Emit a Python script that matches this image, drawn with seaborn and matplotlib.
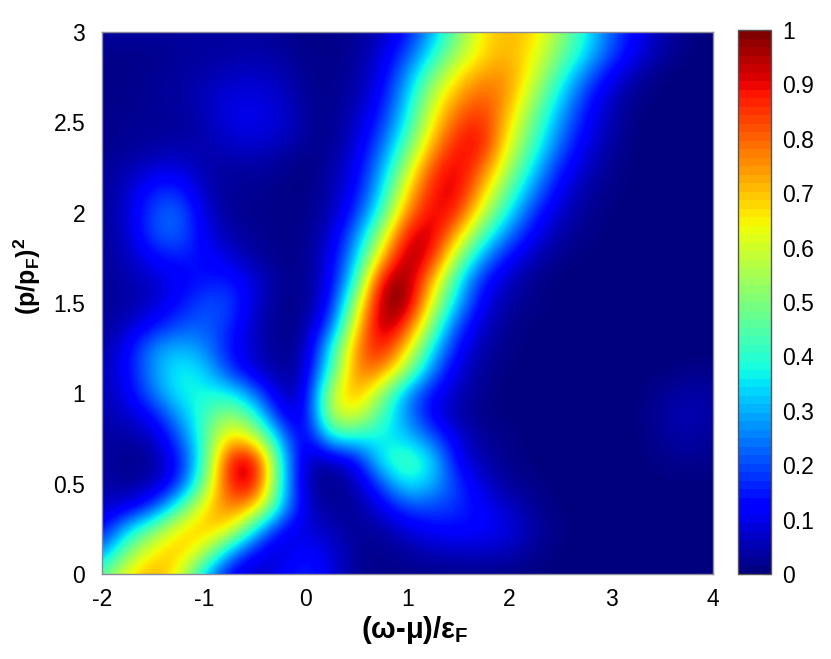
import numpy as np
import matplotlib
matplotlib.use('Agg')
import matplotlib.pyplot as plt
import seaborn as sns

# energy axis: -2 ... 4 in steps of 0.25, momentum axis: 0 ... 3 in steps of 0.125
energy = [-2, -1.75, -1.5, -1.25, -1, -0.75, -0.5, -0.25, 0, 0.25, 0.5, 0.75, 1,
          1.25, 1.5, 1.75, 2, 2.25, 2.5, 2.75, 3, 3.25, 3.5, 3.75, 4]
momentum = [0, 0.125, 0.25, 0.375, 0.5, 0.625, 0.75, 0.875, 1, 1.125, 1.25, 1.375, 1.5,
            1.625, 1.75, 1.875, 2, 2.125, 2.25, 2.375, 2.5, 2.625, 2.75, 2.875, 3]

row_0000 = [.45, .66, .74, .64, .32, .10, .05, .10, .18, .08, .02, .01, .01, .01, .01, .01, .01, 0, 0, 0, 0, 0, 0, 0, 0]
row_0125 = [.25, .50, .66, .72, .60, .30, .12, .06, .13, .08, .02, .01, .03, .05, .06, .06, .05, .02, 0, 0, 0, 0, 0, 0, 0]
row_0250 = [.11, .33, .48, .66, .72, .67, .36, .12, .08, .05, .02, .03, .08, .12, .13, .12, .09, .03, .01, 0, 0, 0, 0, 0, 0]
row_0375 = [.05, .08, .17, .40, .66, .80, .72, .36, .06, .02, .02, .10, .20, .20, .17, .11, .06, .02, 0, 0, 0, 0, 0, 0, 0]
row_0500 = [.04, .02, .04, .15, .48, .90, .95, .38, .03, .01, .04, .20, .38, .30, .17, .07, .02, .01, 0, 0, 0, 0, 0, 0, 0]
row_0625 = [.03, .01, .02, .12, .40, .92, .97, .38, .04, .03, .11, .38, .46, .35, .10, .04, .01, 0, 0, 0, 0, 0, .01, .02, .01]
row_0750 = [.03, .03, .05, .19, .42, .72, .62, .30, .05, .37, .36, .36, .33, .22, .08, .02, .01, 0, 0, 0, 0, 0, .02, .04, .02]
row_0875 = [.04, .06, .12, .28, .42, .55, .42, .12, .07, .60, .62, .42, .26, .10, .03, .01, 0, 0, 0, 0, 0, 0, .03, .05, .03]
row_1000 = [.04, .10, .24, .37, .38, .38, .24, .05, .06, .60, .76, .52, .26, .12, .05, .01, 0, 0, 0, 0, 0, 0, .02, .04, .03]
row_1125 = [.04, .12, .27, .38, .34, .18, .07, .02, .05, .42, .80, .78, .52, .24, .07, .02, 0, 0, 0, 0, 0, 0, 0, .01, .01]
row_1250 = [.03, .11, .27, .31, .27, .13, .06, .01, .03, .36, .78, .92, .68, .34, .12, .03, .01, 0, 0, 0, 0, 0, 0, 0, 0]
row_1375 = [.02, .06, .13, .20, .22, .17, .05, .01, .02, .20, .68, 1.0, .85, .48, .18, .06, .01, 0, 0, 0, 0, 0, 0, 0, 0]
row_1500 = [.02, .03, .06, .13, .20, .20, .07, .01, .01, .12, .57, 1.0, 1.0, .60, .30, .09, .03, .01, 0, 0, 0, 0, 0, 0, 0]
row_1625 = [.02, .04, .06, .11, .14, .15, .08, .02, .01, .10, .40, .95, 1.0, .72, .36, .14, .05, .01, 0, 0, 0, 0, 0, 0, 0]
row_1750 = [.02, .05, .12, .15, .13, .08, .03, .01, .01, .09, .32, .72, 1.0, .88, .52, .26, .12, .04, .01, 0, 0, 0, 0, 0, 0]
row_1875 = [.02, .06, .20, .23, .10, .04, .02, .01, .01, .07, .25, .57, .92, .95, .70, .42, .23, .10, .03, .01, 0, 0, 0, 0, 0]
row_2000 = [.02, .07, .20, .24, .08, .02, .01, .01, .01, .04, .17, .42, .78, .93, .87, .58, .35, .16, .06, .02, 0, 0, 0, 0, 0]
row_2125 = [.02, .06, .16, .17, .05, .02, .02, .01, 0, .04, .12, .34, .68, .90, .93, .70, .45, .25, .10, .03, .01, 0, 0, 0, 0]
row_2250 = [.02, .04, .07, .08, .04, .03, .03, .02, 0, .03, .10, .28, .57, .85, .93, .80, .55, .33, .15, .06, .01, 0, 0, 0, 0]
row_2375 = [.01, .02, .03, .04, .04, .06, .07, .05, .02, .01, .08, .22, .46, .74, .90, .90, .62, .41, .22, .09, .03, 0, 0, 0, 0]
row_2500 = [.01, .02, .02, .02, .04, .09, .10, .08, .03, .01, .06, .17, .38, .66, .84, .88, .68, .46, .27, .12, .04, 0, 0, 0, 0]
row_2625 = [.01, .01, .02, .03, .05, .09, .09, .07, .02, .01, .04, .13, .33, .60, .76, .83, .74, .52, .33, .16, .05, .01, 0, 0, 0]
row_2750 = [.01, .01, .02, .03, .04, .06, .07, .05, .02, .01, .03, .10, .28, .50, .68, .76, .76, .60, .40, .23, .10, .03, 0, 0, 0]
row_2875 = [.01, .01, .01, .02, .03, .03, .04, .03, .01, .01, .02, .08, .20, .38, .56, .68, .73, .64, .49, .34, .19, .09, .03, 0, 0]
row_3000 = [.03, .03, .03, .03, .03, .03, .03, .02, .01, .01, .02, .05, .14, .30, .50, .67, .72, .68, .53, .37, .22, .11, .04, .01, 0]

rows = [row_0000, row_0125, row_0250, row_0375, row_0500, row_0625, row_0750, row_0875,
        row_1000, row_1125, row_1250, row_1375, row_1500, row_1625, row_1750, row_1875,
        row_2000, row_2125, row_2250, row_2375, row_2500, row_2625, row_2750, row_2875, row_3000]

xticks = [-2, -1, 0, 1, 2, 3, 4]
yticks = [0, 0.5, 1, 1.5, 2, 2.5, 3]
yticklabels = ['0', '0.5', '1', '1.5', '2', '2.5', '3']
cbar_ticks = [0, 0.1, 0.2, 0.3, 0.4, 0.5, 0.6, 0.7, 0.8, 0.9, 1]
cbar_labels = ['0', '0.1', '0.2', '0.3', '0.4', '0.5', '0.6', '0.7', '0.8', '0.9', '1']

sns.set_theme(style='white')
plt.rcParams['font.family'] = ['Liberation Sans', 'DejaVu Sans']
plt.rcParams['mathtext.fontset'] = 'custom'
plt.rcParams['mathtext.bf'] = 'Liberation Sans:bold'
plt.rcParams['mathtext.rm'] = 'Liberation Sans:bold'

W, H = 831, 659
fig = plt.figure(figsize=(W / 100, H / 100), dpi=100)
ax = fig.add_axes([102 / W, 1 - 574 / H, 611 / W, 542 / H])
cax = fig.add_axes([738 / W, 1 - 574 / H, 33 / W, 544 / H])

spectral = np.array(rows)
jet = matplotlib.colormaps['jet'].resampled(64)

# heatmap gives axes and colorbar, the smooth image goes over its cells
sns.heatmap(spectral, cmap=jet, vmin=0, vmax=1, ax=ax, cbar_ax=cax, xticklabels=False, yticklabels=False)
ny, nx = spectral.shape
ax.collections[0].set_visible(False)
ax.imshow(spectral, cmap='jet', vmin=0, vmax=1, origin='lower', extent=(0, nx, 0, ny),
          aspect='auto', interpolation='bicubic')
ax.set_xlim(0.5, nx - 0.5)
ax.set_ylim(0.5, ny - 0.5)

ax.set_xticks([energy.index(v) + 0.5 for v in xticks])
ax.set_xticklabels([str(v) for v in xticks], fontsize=16.5, rotation=0, color='black')
ax.set_yticks([momentum.index(v) + 0.5 for v in yticks])
ax.set_yticklabels(yticklabels, fontsize=16.5, rotation=0, color='black')
ax.tick_params(axis='x', length=0, pad=10)
ax.tick_params(axis='y', length=0, pad=12)
for spine in ax.spines.values():
    spine.set_visible(True)
    spine.set_color('#8a8a9a')
    spine.set_linewidth(1)

ax.set_xlabel(r'(ω-μ)/ε$_{\mathbf{F}}$', fontsize=21, fontweight='bold', color='black', va='top')
ax.xaxis.set_label_coords(0.512, -(614 - 574) / 542)
ax.set_ylabel(r'(p/p$_{\mathbf{F}}$)$^{\mathbf{2}}$', fontsize=18, fontweight='bold', color='black', va='center')
ax.yaxis.set_label_coords(-0.122, (574 - 276) / 542)

cbar = ax.collections[0].colorbar
cbar.set_ticks(cbar_ticks)
cbar.set_ticklabels(cbar_labels, fontsize=16.5, color='black')
cax.tick_params(axis='y', direction='in', length=5, width=0.8, color='#333333', pad=8, right=True, left=True)
cbar.outline.set_visible(True)
cbar.outline.set_edgecolor('#555555')
cbar.outline.set_linewidth(1)

fig.savefig('out.png', dpi=100, facecolor='white')
plt.close(fig)
